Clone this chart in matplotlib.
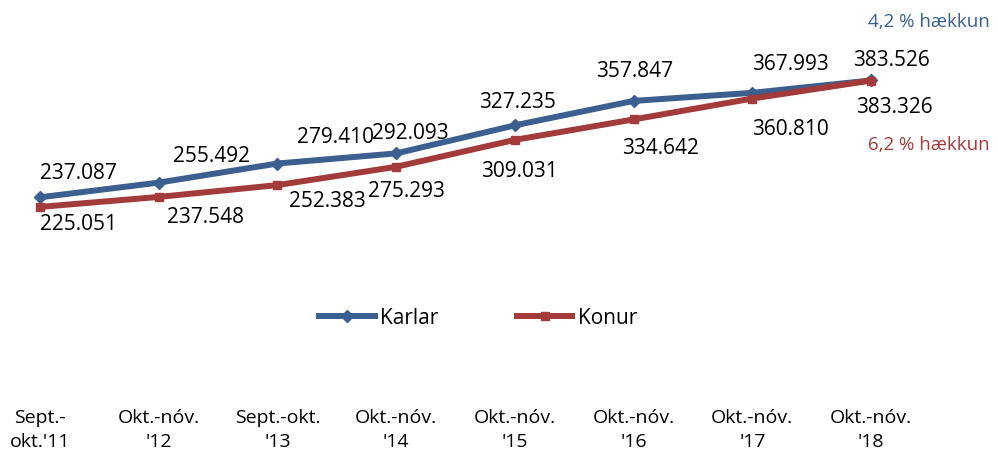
import matplotlib.pyplot as plt

periods = ["Sept.-\nokt.'11", "Okt.-nóv.\n'12", "Sept.-okt.\n'13", "Okt.-nóv.\n'14",
           "Okt.-nóv.\n'15", "Okt.-nóv.\n'16", "Okt.-nóv.\n'17", "Okt.-nóv.\n'18"]
karlar = [237087, 255492, 279410, 292093, 327235, 357847, 367993, 383526]
konur = [225051, 237548, 252383, 275293, 309031, 334642, 360810, 383326]
karlar_note = "4,2 % hækkun"
konur_note = "6,2 % hækkun"

blue = '#3B5F8E'
red = '#A33B3A'

plt.rcParams['font.family'] = ['Open Sans', 'DejaVu Sans']

fig = plt.figure(figsize=(9.98, 4.55), dpi=100)
ax = fig.add_axes([0, 0.1505, 1, 0.8495])

x = list(range(len(periods)))
ax.plot(x, karlar, color=blue, lw=4.3, marker='D', ms=6, label='Karlar', zorder=3)
ax.plot(x, konur, color=red, lw=4.3, marker='s', ms=6, label='Konur', zorder=4)

# label offsets in pixels (dx, dy up)
off_k = [(38, 24), (53, 26), (58, 26), (14, 20), (3, 23), (1, 29), (38, 28), (20, 20)]
off_f = [(38, -18), (47, -21), (50, -16), (10, -25), (5, -32), (27, -29), (38, -31), (23, -27)]

def fmt(v):
    return f"{v:,}".replace(',', '.')

for i in x:
    ax.annotate(fmt(karlar[i]), (i, karlar[i]), xytext=off_k[i], textcoords='offset pixels',
                ha='center', va='center', fontsize=15, color='black')
    ax.annotate(fmt(konur[i]), (i, konur[i]), xytext=off_f[i], textcoords='offset pixels',
                ha='center', va='center', fontsize=15, color='black')

ax.annotate(karlar_note, (x[-1], karlar[-1]), xytext=(58, 58), textcoords='offset pixels',
            ha='center', va='center', fontsize=13.5, color=blue)
ax.annotate(konur_note, (x[-1], konur[-1]), xytext=(58, -64), textcoords='offset pixels',
            ha='center', va='center', fontsize=13.5, color=red)

ax.set_xlim(-0.337, 8.07)
ax.set_ylim(0, 484300)
ax.set_xticks(x)
ax.set_xticklabels(periods, fontsize=14, linespacing=1.45)
ax.tick_params(axis='x', length=0, pad=16)
ax.set_yticks([])
for s in ax.spines.values():
    s.set_visible(False)

fig.legend(loc='center', bbox_to_anchor=(0.479, 0.301), ncol=2, frameon=False,
           fontsize=15, handlelength=2.65, handletextpad=0.25, columnspacing=3.8)

fig.savefig('out.png', dpi=100)
